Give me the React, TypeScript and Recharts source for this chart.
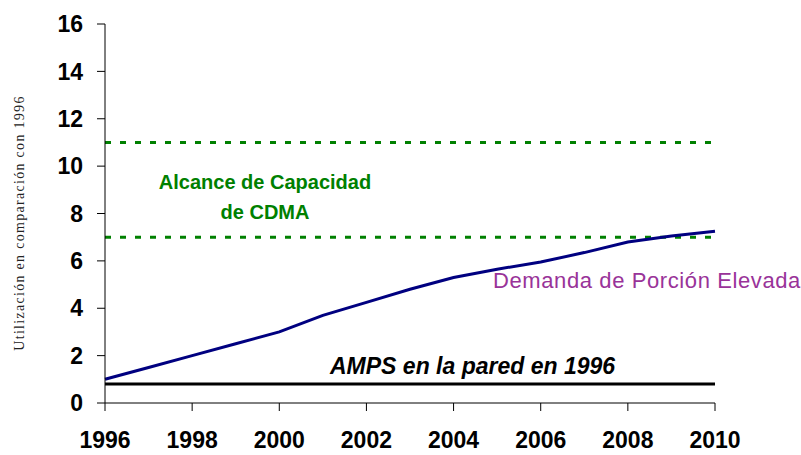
import { LineChart, Line, XAxis, YAxis, ReferenceLine } from 'recharts'

const years = [1996, 1997, 1998, 1999, 2000, 2001, 2002, 2003, 2004, 2005, 2006, 2007, 2008, 2009, 2010]
const demand = [1.0, 1.5, 2.0, 2.5, 3.0, 3.7, 4.25, 4.8, 5.3, 5.65, 5.95, 6.35, 6.8, 7.05, 7.25]
const yearTicks = [1996, 1998, 2000, 2002, 2004, 2006, 2008, 2010]
const valueTicks = [0, 2, 4, 6, 8, 10, 12, 14, 16]
const cdmaLow = 7
const cdmaHigh = 11
const ampsWall = 0.8

const rows = years.map((y, i) => ({ year: y, demand: demand[i] }))

const tickStyle = { fontSize: 23, fontWeight: 700, fill: '#000', fontFamily: 'Liberation Sans, Arial, sans-serif' }

export default function App() {
  return (
    <div style={{ position: 'absolute', left: 0, top: 0, width: 801, height: 455, background: '#fff' }}>
      <LineChart width={801} height={455} data={rows} margin={{ top: 24, right: 86, left: 0, bottom: 0 }}>
        <XAxis
          dataKey="year"
          type="number"
          domain={[1996, 2010]}
          ticks={yearTicks}
          height={52}
          tick={tickStyle}
          tickSize={8}
          tickMargin={21}
          axisLine={{ stroke: '#000' }}
          tickLine={{ stroke: '#000' }}
        />
        <YAxis
          domain={[0, 16]}
          ticks={valueTicks}
          width={105}
          tick={tickStyle}
          tickSize={8}
          tickMargin={14}
          axisLine={{ stroke: '#000' }}
          tickLine={{ stroke: '#000' }}
        />
        <ReferenceLine y={cdmaHigh} stroke="#008000" strokeWidth={3} strokeDasharray="6 9" />
        <ReferenceLine y={cdmaLow} stroke="#008000" strokeWidth={3} strokeDasharray="6 9" />
        <ReferenceLine y={ampsWall} stroke="#000" strokeWidth={3} />
        <Line
          dataKey="demand"
          stroke="#000080"
          strokeWidth={3}
          dot={false}
          type="linear"
          isAnimationActive={false}
        />
      </LineChart>

      {/* eje vertical */}
      <div style={{
        position: 'absolute', left: 20, top: 223, transform: 'translate(-50%, -50%) rotate(-90deg)',
        whiteSpace: 'nowrap', fontFamily: 'Liberation Serif, serif', fontSize: 14, letterSpacing: 1.3, color: '#222',
      }}>
        Utilización en comparación con 1996
      </div>

      <div style={{
        position: 'absolute', left: 265, top: 167, transform: 'translateX(-50%)', textAlign: 'center',
        fontFamily: 'Liberation Sans, Arial, sans-serif', fontWeight: 700, fontSize: 20, lineHeight: '30px',
        color: '#008000', whiteSpace: 'nowrap',
      }}>
        Alcance de Capacidad<br />de CDMA
      </div>

      <div style={{
        position: 'absolute', left: 493, top: 270, fontFamily: 'Liberation Sans, Arial, sans-serif',
        fontSize: 22, lineHeight: 1, letterSpacing: 0.6, color: '#993399', whiteSpace: 'nowrap',
      }}>
        Demanda de Porción Elevada
      </div>

      <div style={{
        position: 'absolute', left: 330, top: 355, fontFamily: 'Liberation Sans, Arial, sans-serif',
        fontSize: 23, lineHeight: 1, fontWeight: 700, fontStyle: 'italic', color: '#000', whiteSpace: 'nowrap',
      }}>
        AMPS en la pared en 1996
      </div>
    </div>
  )
}
